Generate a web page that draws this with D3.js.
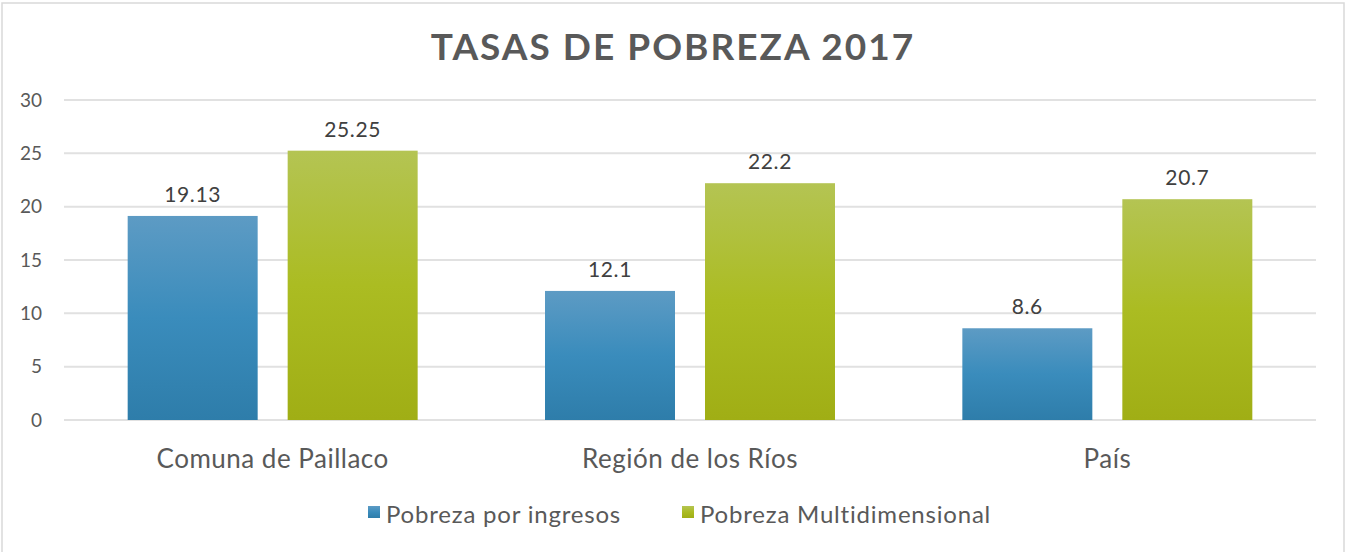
<!DOCTYPE html>
<html>
<head>
<meta charset="utf-8">
<script src="https://cdn.jsdelivr.net/npm/d3@7"></script>
<style>
  body { margin: 0; background: #fff; }
  text { font-family: "Lato", "Open Sans", sans-serif; }
</style>
</head>
<body>
<div id="chart"></div>
<script>
var categories = ["Comuna de Paillaco", "Región de los Ríos", "País"];
var seriesNames = ["Pobreza por ingresos", "Pobreza Multidimensional"];
var ingresos = [19.13, 12.1, 8.6];
var multidimensional = [25.25, 22.2, 20.7];
var yTicks = [0, 5, 10, 15, 20, 25, 30];
var chartTitle = "TASAS DE POBREZA 2017";

var width = 1345, height = 552;
var margins = {top: 100, right: 29, bottom: 132, left: 64};

var svg = d3.select("#chart").append("svg")
    .attr("width", width).attr("height", height);

// gradients
var defs = svg.append("defs");
var grads = [["gBlue", "#5d9bc4", "#3a8cbc", "#2e7daa"], ["gGreen", "#b4c453", "#abbc22", "#a0ae15"]];
grads.forEach(function(g) {
    var lg = defs.append("linearGradient").attr("id", g[0])
        .attr("x1", 0).attr("y1", 0).attr("x2", 0).attr("y2", 1);
    lg.append("stop").attr("offset", "0%").attr("stop-color", g[1]);
    lg.append("stop").attr("offset", "50%").attr("stop-color", g[2]);
    lg.append("stop").attr("offset", "100%").attr("stop-color", g[3]);
});
var fills = ["url(#gBlue)", "url(#gGreen)"];

// outer border
svg.append("rect")
    .attr("x", 2).attr("y", 3).attr("width", width - 3).attr("height", height - 2)
    .attr("fill", "none").attr("stroke", "#d9d9d9").attr("stroke-width", 1.5);

var x = d3.scaleBand()
    .domain(categories)
    .range([margins.left, width - margins.right]);

var x1 = d3.scaleBand()
    .domain(seriesNames)
    .range([0, x.bandwidth()])
    .paddingInner(0.1875)
    .paddingOuter(0.398);

var y = d3.scaleLinear()
    .domain([0, 30])
    .range([height - margins.bottom, margins.top]);

// gridlines
svg.append("g")
    .selectAll("line")
    .data(yTicks)
    .enter().append("line")
    .attr("x1", margins.left).attr("x2", width - margins.right)
    .attr("y1", d => y(d)).attr("y2", d => y(d))
    .attr("stroke", "#e1e1e1").attr("stroke-width", 2);

// y axis labels
svg.append("g")
    .attr("transform", "translate(" + (margins.left - 22) + ",0)")
    .call(d3.axisLeft(y).tickValues(yTicks).tickSize(0).tickPadding(0))
    .call(g => g.select(".domain").remove())
    .call(g => g.selectAll("text")
        .attr("font-size", "19px")
        .attr("fill", "#595959")
        .style("font-family", "Lato, sans-serif"));

var rows = categories.map(function(c, i) {
    return {cat: c, values: [ingresos[i], multidimensional[i]]};
});

var groups = svg.selectAll(".cat")
    .data(rows)
    .enter().append("g")
    .attr("class", "cat")
    .attr("transform", d => "translate(" + x(d.cat) + ",0)");

groups.selectAll("rect")
    .data(d => d.values.map((v, j) => ({name: seriesNames[j], value: v, j: j})))
    .enter().append("rect")
    .attr("x", d => x1(d.name))
    .attr("width", x1.bandwidth())
    .attr("y", d => y(d.value))
    .attr("height", d => y(0) - y(d.value))
    .attr("fill", d => fills[d.j]);

groups.selectAll(".lbl")
    .data(d => d.values.map((v, j) => ({name: seriesNames[j], value: v})))
    .enter().append("text")
    .attr("class", "lbl")
    .attr("x", d => x1(d.name) + x1.bandwidth() / 2)
    .attr("y", d => y(d.value) - 14)
    .attr("text-anchor", "middle")
    .attr("font-size", "21px")
    .attr("letter-spacing", "0.6px")
    .attr("fill", "#404040")
    .text(d => d.value);

// category labels
svg.append("g")
    .attr("transform", "translate(0," + y(0) + ")")
    .call(d3.axisBottom(x).tickSize(0).tickPadding(0))
    .call(g => g.select(".domain").remove())
    .call(g => g.selectAll("text")
        .attr("dy", 0).attr("y", 48)
        .attr("font-size", "26px")
        .attr("letter-spacing", "0.5px")
        .attr("fill", "#595959")
        .style("font-family", "Lato, sans-serif"));

// title
svg.append("text")
    .attr("x", 673).attr("y", 60)
    .attr("text-anchor", "middle")
    .attr("font-size", "37px")
    .attr("font-weight", "bold")
    .attr("letter-spacing", "2px")
    .attr("fill", "#595959")
    .text(chartTitle);

// legend
var legendX = [368, 682];
var legend = svg.selectAll(".legend")
    .data(seriesNames)
    .enter().append("g")
    .attr("class", "legend")
    .attr("transform", (d, i) => "translate(" + legendX[i] + ",506)");

legend.append("rect")
    .attr("width", 12).attr("height", 12)
    .attr("fill", (d, i) => fills[i]);

legend.append("text")
    .attr("x", 18).attr("y", 17)
    .attr("font-size", "24px")
    .attr("letter-spacing", "0.8px")
    .attr("fill", "#595959")
    .text(d => d);
</script>
</body>
</html>
